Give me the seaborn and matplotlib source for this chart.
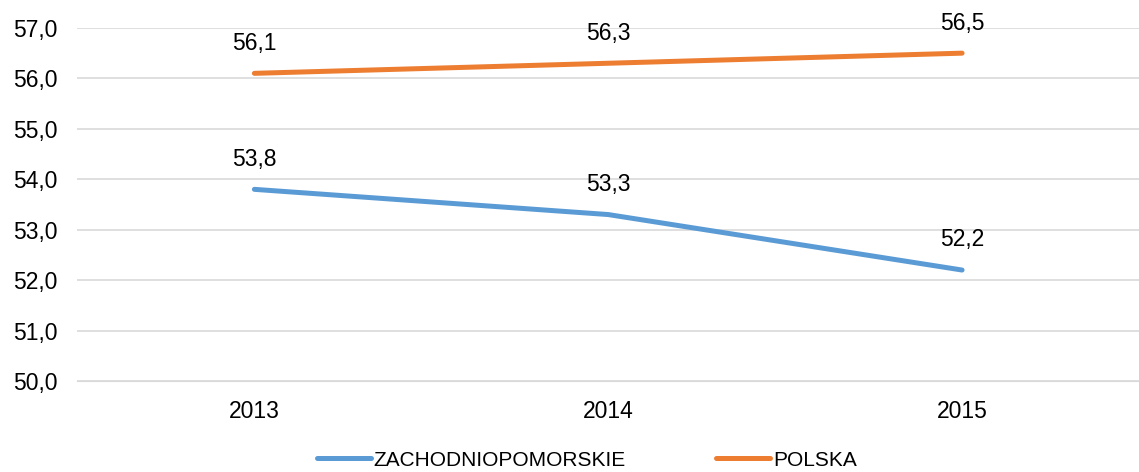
import matplotlib
matplotlib.use("Agg")
import matplotlib.pyplot as plt
import seaborn as sns
import pandas as pd

years = ["2013", "2014", "2015"]
zachodniopomorskie = [53.8, 53.3, 52.2]
polska = [56.1, 56.3, 56.5]
series_names = ["ZACHODNIOPOMORSKIE", "POLSKA"]
colors = ["#5b9bd5", "#ed7d31"]

df = pd.DataFrame({
    "rok": years * 2,
    "x": list(range(len(years))) * 2,
    "wartosc": zachodniopomorskie + polska,
    "seria": [series_names[0]] * 3 + [series_names[1]] * 3,
})

sns.set_style("white")
plt.rcParams["font.family"] = ["Liberation Sans", "DejaVu Sans"]

fig = plt.figure(figsize=(11.39, 4.72), dpi=100)
ax = fig.add_axes([0.068, 0.1928, 0.932, 0.748])

sns.lineplot(data=df, x="x", y="wartosc", hue="seria", palette=colors,
             linewidth=3.6, ax=ax, legend=False)

for vals in (zachodniopomorskie, polska):
    for i, v in enumerate(vals):
        ax.annotate(f"{v:.1f}".replace(".", ","), (i, v), xytext=(0, 17),
                    textcoords="offset points", ha="center", va="baseline",
                    fontsize=16.5, color="black")

ax.set_xlim(-0.5, 2.5)
ax.set_ylim(50, 57)
ax.set_yticks(range(50, 58))
ax.set_yticklabels([f"{t:.1f}".replace(".", ",") for t in range(50, 58)])
ax.set_xticks(range(len(years)))
ax.set_xticklabels(years)
ax.tick_params(axis="both", length=0, labelsize=16.5, labelcolor="black")
ax.tick_params(axis="y", pad=14.5)
ax.tick_params(axis="x", pad=14)
ax.set_xlabel("")
ax.set_ylabel("")
ax.grid(axis="y", color="#d9d9d9", linewidth=1.2)
for s in ["top", "right", "left"]:
    ax.spines[s].set_visible(False)
ax.spines["bottom"].set_color("#d9d9d9")

handles = [plt.Line2D([], [], color=c, linewidth=3.6) for c in colors]
fig.legend(handles, series_names, loc="lower center", ncol=2, frameon=False,
           fontsize=15, bbox_to_anchor=(0.515, -0.035), handlelength=2.6,
           columnspacing=4.3, handletextpad=0.15, labelcolor="black")

fig.savefig("out.png", dpi=100)
